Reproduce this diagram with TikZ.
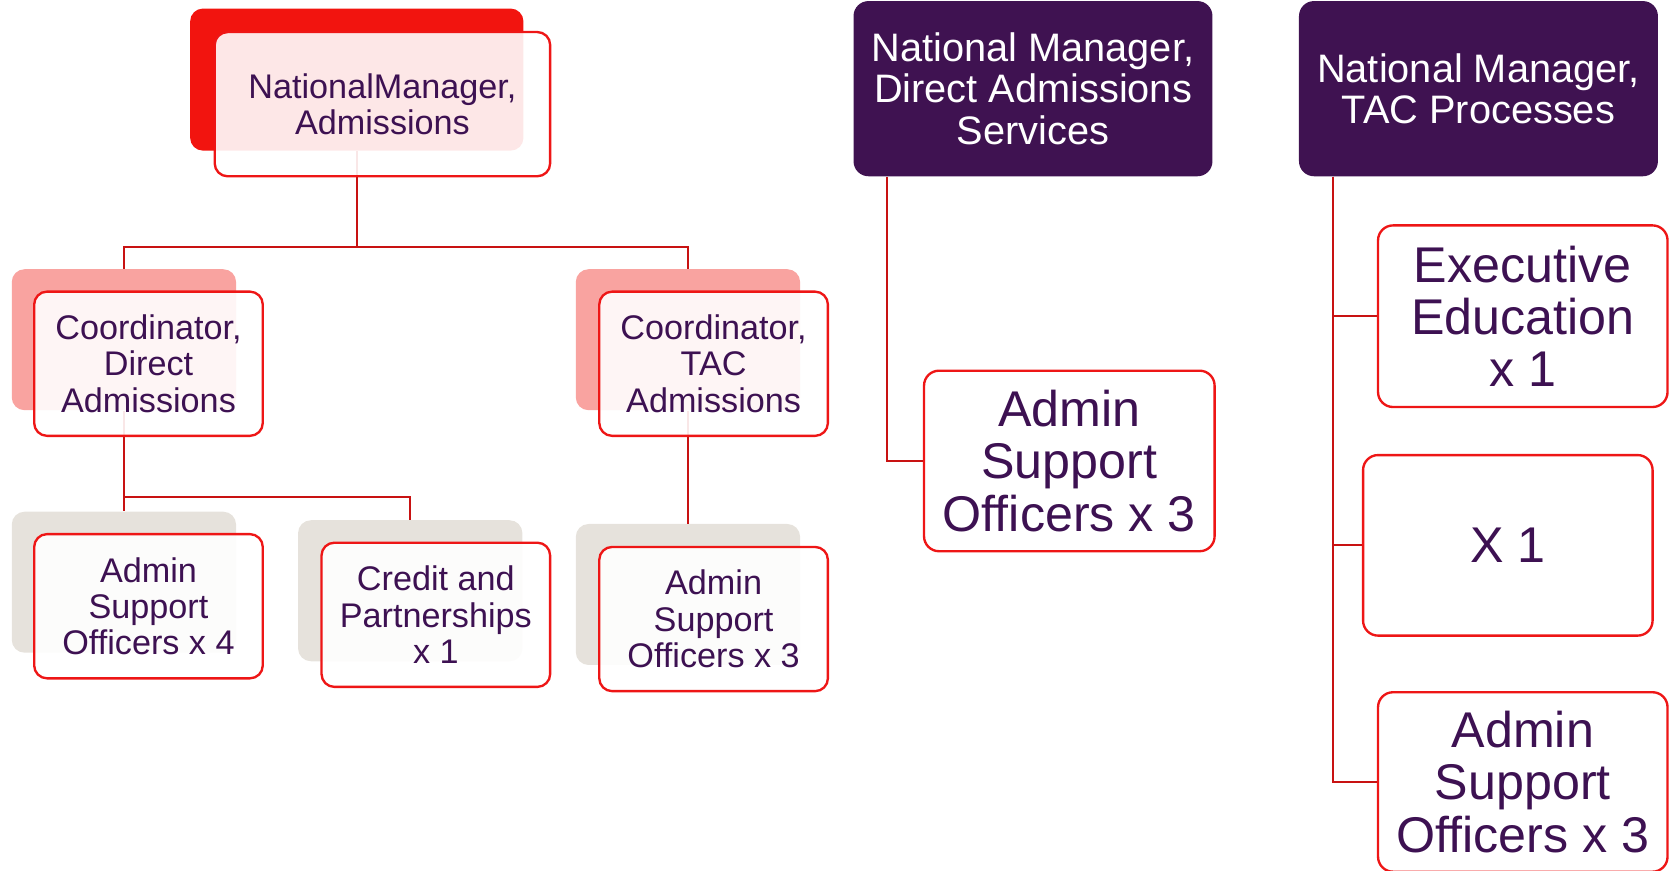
\documentclass[tikz,border=0pt]{standalone}
\usepackage{fontspec}
\setmainfont{Liberation Sans}
\definecolor{ink}{RGB}{61,17,82}
\definecolor{plum}{RGB}{63,18,81}
\definecolor{bred}{RGB}{238,22,22}
\definecolor{hred}{RGB}{242,20,15}
\definecolor{lred}{RGB}{249,163,160}
\definecolor{lgray}{RGB}{230,226,220}
\definecolor{cred}{RGB}{200,18,18}
\tikzset{
  backbox/.style={rounded corners=6pt, inner sep=0pt, minimum width=105pt, minimum height=66pt},
  frontbox/.style={rounded corners=6pt, draw=bred, line width=1.1pt, fill=white, fill opacity=0.9, text opacity=1,
     text=ink, align=center, inner sep=0pt, minimum width=107pt, minimum height=67.5pt,
     font=\fontsize{16pt}{17pt}\selectfont},
  bigbox/.style={rounded corners=7pt, draw=bred, line width=1.1pt, fill=white,
     text=ink, align=center, inner sep=0pt, minimum width=136pt, minimum height=84.5pt,
     font=\fontsize{23.5pt}{24.5pt}\selectfont},
  headbox/.style={rounded corners=7pt, fill=plum, text=white, align=center, inner sep=0pt,
     minimum width=168pt, minimum height=82pt, font=\fontsize{18.6pt}{19.3pt}\selectfont},
  link/.style={draw=cred, line width=1pt}
}
\begin{document}
\begin{tikzpicture}[x=0.5pt,y=-0.5pt]
\useasboundingbox (0,0) rectangle (1568,815);
% back boxes
\node[backbox, fill=hred, minimum width=156pt, minimum height=66.5pt] (tlb) at (334,74.5) {};
\node[backbox, fill=lred] (c1b) at (116,318) {};
\node[backbox, fill=lred] (c2b) at (644,318) {};
\node[backbox, fill=lgray] (a4b) at (116,545) {};
\node[backbox, fill=lgray] (crb) at (384,553) {};
\node[backbox, fill=lgray] (a3b) at (644,556.5) {};
% junctions
\coordinate (j0) at (334,231);
\coordinate (j1) at (116,465);
% connectors on the left
\path[link] (tlb.south) -- (j0) -| (c1b.north);
\path[link] (j0) -| (c2b.north);
\path[link] (c1b.south) -- (j1) -- (a4b.north);
\path[link] (j1) -| (crb.north);
\path[link] (c2b.south) -- (a3b.north);
% front boxes
\node[frontbox, minimum width=157pt] (tl) at (358,97.5) {NationalManager,\\Admissions};
\node[frontbox] (c1) at (139,340.5) {Coordinator,\\Direct\\Admissions};
\node[frontbox] (c2) at (668,340.5) {Coordinator,\\TAC\\Admissions};
\node[frontbox] (a4) at (139,567.5) {Admin\\Support\\Officers x 4};
\node[frontbox] (cr) at (408,575.5) {Credit and\\Partnerships\\x 1};
\node[frontbox] (a3) at (668,579.5) {Admin\\Support\\Officers x 3};
% middle column
\node[headbox] (h1) at (967,83) {National Manager,\\Direct Admissions\\Services};
\node[bigbox] (m1) at (1001,431.5) {Admin\\Support\\Officers x 3};
\path[link] ([xshift=16pt]h1.south west) |- (m1.west);
% right column
\node[headbox] (h2) at (1384,83) {National Manager,\\TAC Processes};
\node[bigbox, minimum width=135.5pt, minimum height=85pt] (e1) at (1425.5,296) {Executive\\Education\\x 1};
\node[bigbox, minimum width=135.5pt, minimum height=84.5pt] (x1) at (1411.5,510.5) {X 1};
\node[bigbox, minimum width=135.5pt, minimum height=84pt] (ar) at (1425.5,732) {Admin\\Support\\Officers x 3};
\path[link] ([xshift=16pt]h2.south west) |- (ar.west);
\path[link] ([xshift=16pt]h2.south west) |- (e1.west);
\path[link] ([xshift=16pt]h2.south west) |- (x1.west);
\end{tikzpicture}
\end{document}
